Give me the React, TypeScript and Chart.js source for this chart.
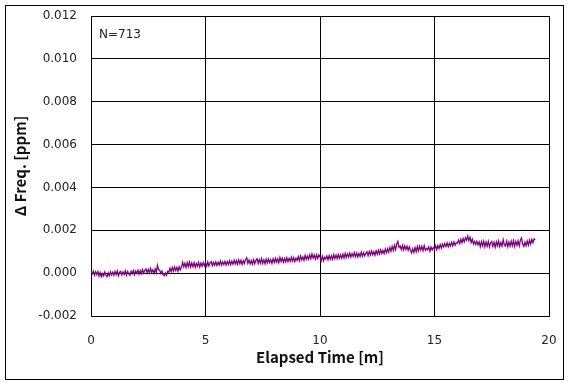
import React, { useEffect, useRef } from "react";
import { Chart, registerables } from "chart.js";

Chart.register(...registerables);

const timeStepMin = 0.05;
// Δ Freq values in units of 1e-4 ppm (20 per minute)
const deltaFreqE4: number[] = [
  1.2, -0.4, 0.9, -1.0, 0.6, -0.6, 0.8, -1.4, 0.3, -1.6, -0.2, -1.3, 0.5, -0.9, -1.7, 0.1, -1.2, 0.6, -0.8, 0.4,
  -1.0, 0.8, -0.7, 1.0, -1.2, 0.5, 0.9, -0.8, 0.6, -0.6, 1.1, -0.9, 0.8, -0.3, -1.0, 0.9, -0.2, 1.2, -0.7, 1.0,
  -0.1, 1.4, -0.5, 1.2, -0.2, 1.7, 0.0, 1.3, 2.0, 0.1, 1.8, 0.2, 2.2, 0.4, 1.6, -0.1, 1.9, 0.3, 3.6, 1.6,
  1.4, -0.2, 1.0, -0.8, -1.2, 0.1, -1.0, 0.8, 0.4, 2.3, 0.7, 2.6, 1.0, 2.9, 1.2, 2.7, 0.9, 3.0, 1.5, 2.8,
  5.0, 3.0, 4.6, 2.6, 4.9, 3.1, 5.2, 2.8, 4.7, 3.0, 4.9, 2.7, 4.5, 3.2, 5.0, 2.9, 4.7, 3.2, 4.9, 3.4,
  4.9, 3.2, 5.2, 3.4, 4.8, 5.4, 3.5, 5.0, 3.7, 5.3, 3.6, 5.1, 3.8, 5.6, 3.8, 5.2, 4.0, 5.5, 3.8, 5.4,
  4.1, 5.8, 4.0, 5.6, 4.2, 6.0, 4.3, 5.9, 4.2, 6.2, 4.4, 6.0, 4.1, 5.8, 4.5, 6.3, 7.2, 4.6, 6.1, 4.3,
  5.9, 4.2, 6.3, 4.4, 6.0, 6.7, 4.5, 6.3, 4.7, 6.8, 4.6, 6.2, 4.4, 6.5, 4.8, 6.6, 4.9, 6.3, 4.6, 6.7,
  5.0, 6.9, 5.2, 6.7, 4.9, 7.3, 5.4, 7.0, 5.1, 6.8, 5.3, 7.2, 5.4, 6.9, 5.5, 7.4, 5.7, 7.2, 5.4, 7.0,
  5.9, 7.7, 5.8, 8.0, 6.2, 7.6, 6.0, 8.3, 6.4, 7.9, 6.5, 8.5, 6.7, 9.0, 7.0, 8.4, 6.6, 8.6, 6.9, 8.5,
  7.6, 5.8, 7.9, 5.7, 7.4, 6.6, 8.0, 6.2, 8.2, 6.5, 8.1, 6.4, 8.6, 6.8, 8.4, 6.7, 8.7, 7.0, 8.5, 6.9,
  8.9, 7.1, 9.2, 7.3, 9.0, 7.6, 9.4, 7.5, 9.1, 7.8, 9.6, 7.7, 9.3, 7.6, 9.2, 7.8, 9.8, 7.9, 9.5, 8.1,
  9.2, 10.0, 8.2, 10.1, 8.5, 10.3, 8.6, 10.0, 8.4, 10.4, 8.8, 10.7, 9.0, 10.9, 9.2, 10.6, 9.1, 11.2, 9.6, 11.4,
  9.8, 12.0, 10.2, 12.5, 10.6, 13.0, 11.0, 13.6, 14.8, 12.0, 12.6, 11.0, 12.9, 10.9, 12.8, 11.1, 12.6, 10.6, 12.3, 10.8,
  9.4, 11.4, 9.7, 11.9, 10.0, 12.4, 10.4, 12.6, 10.8, 12.5, 10.5, 12.8, 10.7, 11.6, 10.9, 12.3, 10.2, 12.2, 10.8, 12.0,
  11.3, 12.8, 11.0, 12.9, 11.5, 13.3, 11.8, 13.5, 12.2, 13.8, 12.4, 14.1, 12.3, 13.9, 12.7, 14.4, 12.8, 14.6, 13.0, 14.2,
  14.0, 15.4, 13.8, 15.8, 14.2, 16.2, 14.6, 16.6, 15.4, 17.3, 15.2, 16.7, 14.3, 15.9, 13.6, 14.8, 13.4, 14.9, 13.2, 14.6,
  12.4, 14.7, 12.7, 14.9, 12.3, 14.5, 12.6, 14.8, 12.2, 14.2, 14.8, 12.5, 14.4, 12.1, 14.6, 12.8, 15.0, 12.4, 14.3, 12.6,
  15.6, 13.2, 12.7, 14.9, 12.4, 14.5, 12.6, 14.9, 12.8, 15.2, 12.5, 14.8, 13.0, 15.0, 12.7, 15.4, 16.4, 13.6, 12.5, 14.4,
  12.8, 15.0, 13.1, 15.4, 13.6, 15.7, 14.2, 16.0, 15.6,
];

const xTicks = [0, 5, 10, 15, 20];
const yTicks = [-0.002, 0.0, 0.002, 0.004, 0.006, 0.008, 0.01, 0.012];
const sampleCountLabel = "N=713";
const xTitle = "Elapsed Time [m]";
const yTitle = "\u0394 Freq. [ppm]";

const TICK_FONT = "'DejaVu Sans', sans-serif";
const TITLE_FONT = "'Noto Sans CJK KR', 'Noto Sans', sans-serif";

export default function App() {
  const ref = useRef<HTMLCanvasElement | null>(null);

  useEffect(() => {
    if (!ref.current) return;
    const points = deltaFreqE4.map((v, i) => ({
      x: +(i * timeStepMin).toFixed(3),
      y: v * 1e-4,
    }));

    const framePlugin = {
      id: "frame",
      afterDraw(chart: any) {
        const { ctx, chartArea } = chart;
        ctx.save();
        ctx.strokeStyle = "#000";
        ctx.lineWidth = 1;
        ctx.strokeRect(5.5, 5.5, 558, 374);
        ctx.fillStyle = "#222";
        ctx.font = `12px ${TICK_FONT}`;
        ctx.textBaseline = "middle";
        ctx.textAlign = "left";
        ctx.fillText(sampleCountLabel, chartArea.left + 8, chartArea.top + 19);
        ctx.restore();
      },
    };

    const chart = new Chart(ref.current, {
      type: "line",
      data: {
        datasets: [
          {
            data: points,
            borderColor: "#800080",
            borderWidth: 1.3,
            pointRadius: 0,
            tension: 0,
            fill: false,
          },
        ],
      },
      options: {
        animation: false,
        responsive: false,
        maintainAspectRatio: false,
        layout: { padding: { top: 16, right: 22, left: 0, bottom: 0 } },
        plugins: { legend: { display: false }, tooltip: { enabled: false } },
        scales: {
          x: {
            type: "linear",
            min: 0,
            max: 20,
            afterBuildTicks: (s: any) => {
              s.ticks = xTicks.map((v) => ({ value: v }));
            },
            afterFit: (s: any) => {
              s.height = 66;
              s.paddingLeft = 0;
              s.paddingRight = 0;
            },
            ticks: {
              padding: 18,
              color: "#222",
              font: { family: TICK_FONT, size: 12 },
              callback: (v: any) => String(v),
            },
            grid: { color: "#000", lineWidth: 1, drawTicks: false },
            border: { color: "#000", width: 1 },
            title: {
              display: true,
              text: xTitle,
              color: "#111",
              font: { family: TITLE_FONT, size: 15, weight: "bold" },
              padding: { top: 0, bottom: 16 },
            },
          },
          y: {
            type: "linear",
            min: -0.002,
            max: 0.012,
            afterBuildTicks: (s: any) => {
              s.ticks = yTicks.map((v) => ({ value: v }));
            },
            afterFit: (s: any) => {
              s.width = 91;
              s.paddingTop = 0;
              s.paddingBottom = 0;
            },
            ticks: {
              padding: 14,
              color: "#222",
              font: { family: TICK_FONT, size: 12 },
              callback: (v: any) => Number(v).toFixed(3),
            },
            grid: { color: "#000", lineWidth: 1, drawTicks: false },
            border: { color: "#000", width: 1 },
            title: {
              display: true,
              text: yTitle,
              color: "#111",
              font: { family: TITLE_FONT, size: 15, weight: "bold" },
              padding: { top: 11, bottom: 0 },
            },
          },
        },
      },
      plugins: [framePlugin],
    });
    return () => chart.destroy();
  }, []);

  return (
    <div style={{ position: "absolute", left: 0, top: 0, width: 571, height: 382, background: "#fff" }}>
      <canvas ref={ref} width={571} height={382} style={{ width: 571, height: 382 }} />
    </div>
  );
}
